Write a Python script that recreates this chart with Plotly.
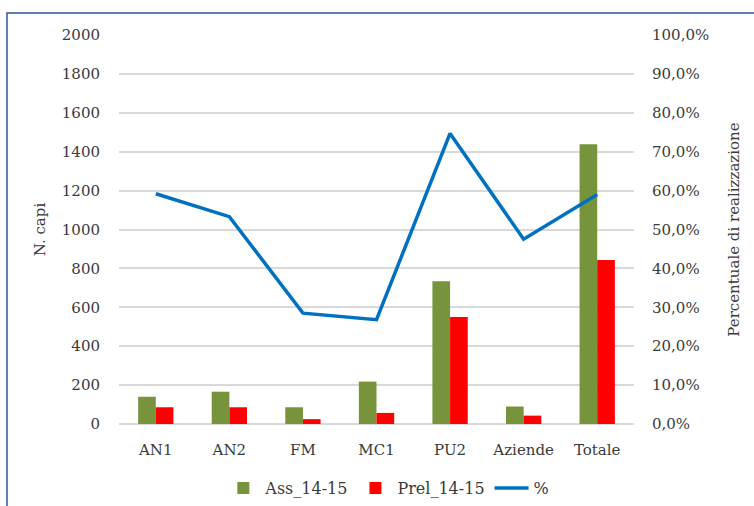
import plotly.graph_objects as go

# Categories and series
categories = ["AN1", "AN2", "FM", "MC1", "PU2", "Aziende", "Totale"]
ass_14_15 = [140, 166, 86, 218, 734, 90, 1438]
prel_14_15 = [86, 86, 25, 57, 550, 43, 843]
percent = [0.592, 0.533, 0.285, 0.268, 0.747, 0.475, 0.590]

left_ticks = [0, 200, 400, 600, 800, 1000, 1200, 1400, 1600, 1800, 2000]
right_ticks = [0.0, 0.1, 0.2, 0.3, 0.4, 0.5, 0.6, 0.7, 0.8, 0.9, 1.0]

FONT = "DejaVu Serif"
TEXT = "#3A3A3A"
GRID = "#D9D9D9"
FS = 15

fig = go.Figure()
fig.add_trace(go.Bar(x=categories, y=ass_14_15, name="Ass_14-15",
                     marker=dict(color="#77933C", line=dict(width=0))))
fig.add_trace(go.Bar(x=categories, y=prel_14_15, name="Prel_14-15",
                     marker=dict(color="#FF0000", line=dict(width=0))))
fig.add_trace(go.Scatter(x=categories, y=percent, name="%", mode="lines",
                         line=dict(color="#0070C0", width=3.5), yaxis="y2"))

fig.update_layout(
    width=754, height=506,
    margin=dict(l=119, r=120, t=35, b=82, autoexpand=False),
    paper_bgcolor="white", plot_bgcolor="white",
    separators=",.",
    barmode="group", bargap=0.52, bargroupgap=0,
    font=dict(family=FONT, size=FS, color=TEXT),
    showlegend=True,
    legend=dict(orientation="h", x=0.522, xanchor="center",
                yref="container", y=1 - 488 / 506, yanchor="middle",
                font=dict(family=FONT, size=16, color=TEXT), itemwidth=34,
                tracegroupgap=0, traceorder="normal"),
    xaxis=dict(showgrid=False, showline=False, ticks="", ticklabelstandoff=15,
               automargin=False,
               tickfont=dict(family=FONT, size=FS, color=TEXT)),
    yaxis=dict(range=[0, 2000], tickvals=left_ticks, tickformat="d",
               showgrid=True, gridcolor=GRID, gridwidth=1.5,
               zeroline=True, zerolinecolor=GRID, zerolinewidth=1.5,
               showline=False, ticks="", ticklabelstandoff=18, automargin=False,
               title=dict(text="N. capi", standoff=12,
                          font=dict(family=FONT, size=FS, color=TEXT)),
               tickfont=dict(family=FONT, size=FS, color=TEXT)),
    yaxis2=dict(range=[0, 1], tickvals=right_ticks, tickformat=".1%",
                overlaying="y", side="right", showgrid=False, zeroline=False,
                showline=False, ticks="", ticklabelstandoff=17, automargin=False,
                title=dict(text="Percentuale di realizzazione", standoff=20,
                           font=dict(family=FONT, size=FS, color=TEXT)),
                tickfont=dict(family=FONT, size=FS, color=TEXT)),
)

# Outer frame around the chart
fig.add_shape(type="rect", xref="paper", yref="paper",
              x0=-0.2175, y0=-0.4, x1=1.4, y1=1.0566,
              line=dict(color="#2F5597", width=1.5), fillcolor="rgba(0,0,0,0)",
              layer="above")

fig.write_html("out.html")
